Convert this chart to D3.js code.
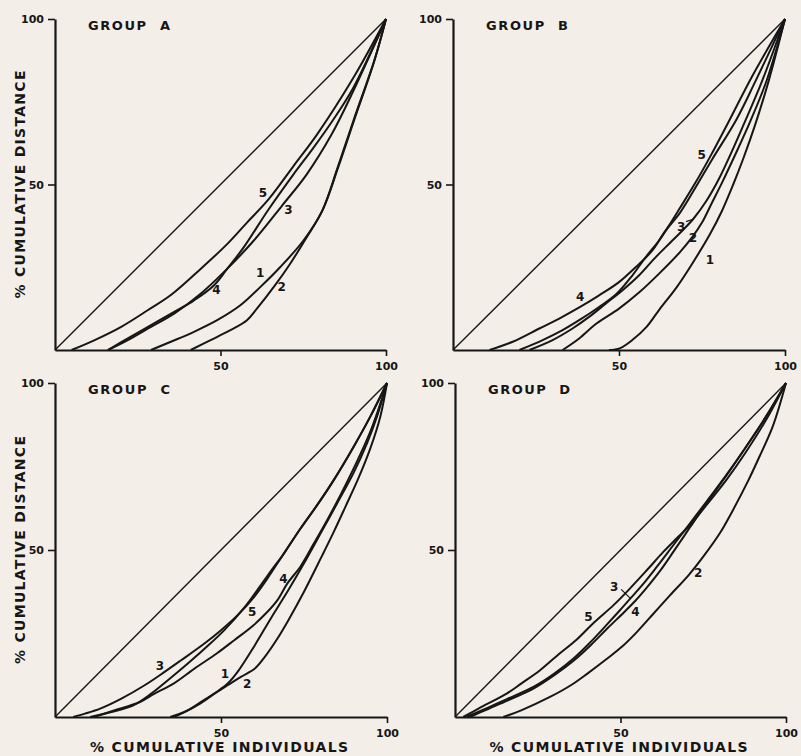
<!doctype html>
<html>
<head>
<script src="https://cdn.jsdelivr.net/npm/d3@7"></script>
<style>
body { margin: 0; background: #f3efe8; }
svg { display: block; background: #f3efe8; }
text { font-family: "DejaVu Sans", sans-serif; font-weight: bold; fill: #161616; }
</style>
</head>
<body>
<svg width="801" height="756"></svg>
<script>

// ticks and titles
var xTicks = [50, 100];
var yTicks = [50, 100];
var groupNames = ["A", "B", "C", "D"];
var xTitle = "% CUMULATIVE INDIVIDUALS";
var yTitle = "% CUMULATIVE DISTANCE";

// curves: [% cumulative individuals, % cumulative distance]
var groupA1 = [[29,0],[35,2.5],[42,5.5],[49,9],[56,13.5],[62,19],[68,25],[75,33],[80.8,42.2],[85.5,55],[90.4,69.5],[96.5,87.4],[100,100]];
var groupA2 = [[41,0],[47,3],[53,6],[58,9],[61,12.5],[66.5,19.6],[71,26],[76,34],[80.8,42.2],[85.5,55.5],[90.4,70],[96.5,87.6],[100,100]];
var groupA3 = [[16,0],[22,3],[29,7],[36,11],[44,17],[52,24.5],[60,33],[68.5,43.5],[76,53],[83.5,65],[90,78],[100,100]];
var groupA4 = [[16,0],[22,3.5],[29,7.5],[36,11.5],[42,15],[48,19.5],[52,24.5],[57,31],[64.4,42.3],[72,53],[78,61],[84,69.5],[90,79],[100,100]];
var groupA5 = [[5,0],[12,3],[20,7],[28,12],[35,16.6],[44,24.5],[52,32],[58,38.5],[64.5,45.5],[72,55.5],[79.3,65.3],[90,82],[100,100]];

var groupB1 = [[47,0],[50.2,0.5],[54,3],[58.3,7],[62,12],[67.4,19],[72,26],[77.3,34.8],[81,42],[84.4,50],[87.5,58],[91,68],[95,81],[100,100]];
var groupB2 = [[33,0],[38,3.5],[43.2,8],[50,12.5],[56.2,17.5],[62,23],[68.3,29.5],[72,34],[75,38.5],[78,44.5],[81,50.5],[85,59],[89.5,69],[94.5,81.5],[100,100]];
var groupB3 = [[23,0],[30,3],[36,6.5],[41,10],[46,14],[51,18],[56,22.5],[61,28],[66,33],[72.3,39.5],[76.3,45],[80,51.5],[84,60],[87.5,68],[93,81],[100,100]];
var groupB4 = [[11,0],[18,2.5],[26,6.5],[32,9.5],[38.3,13],[44,16.5],[50,20.5],[55,25],[60,30],[64,36],[68.4,41.5],[73,49],[78,57.5],[85.3,69.5],[91,81],[100,100]];
var groupB5 = [[20,0],[27,3],[33,6],[38,9],[44,13],[49.3,17],[54,22.5],[58,28],[62,33],[65,37.5],[68.3,42.8],[73,50.5],[77.5,58.5],[83.3,69.5],[90,82.5],[100,100]];

var groupC1 = [[34.7,0],[39,1.5],[43.7,4],[48,7],[52,10],[55,13.5],[60.2,21.5],[65,29.5],[70.3,38],[75,46],[80.3,55.5],[85,64],[89.9,73],[94,82],[97,90],[100,100]];
var groupC2 = [[35.7,0],[40,2],[44,4.5],[48,7],[52,9.5],[56,12],[60.2,14.5],[63.2,18],[67,23.5],[70.3,29],[75,37.5],[80.3,48],[84,55.5],[87.5,63],[91.4,71.5],[95,80.5],[98,90],[100,100]];
var groupC3 = [[5.5,0],[9,1],[13.6,2.5],[20,5.5],[27,9.5],[33,13.5],[38,17],[45,22],[50,26],[55,30.5],[60,36],[64,41.5],[68.3,48],[74,56.5],[79,63.5],[84,71],[90,81],[95,90],[100,100]];
var groupC4 = [[11.6,0],[18,2],[25.6,4.5],[30,7],[35.7,10],[42,14.5],[48.7,19],[54,23],[59.8,27.5],[64,31.5],[67,35],[70,40],[73.9,45],[78,52],[82,59],[86,66.5],[90,74.5],[95,85.5],[100,100]];
var groupC5 = [[10.6,0],[17,1.5],[23.6,3.5],[29,7],[34,11],[40,16],[45.7,21],[51,26],[57.2,33],[62,39.5],[66,45],[68.3,48],[74,56.5],[79,63.5],[84,71],[90,81],[95,90],[100,100]];

var groupD2 = [[14.6,0],[20,2],[28.7,6],[35,9.5],[40,13],[46,17.5],[50.4,21],[55,25.5],[60,31],[65,36.5],[70.6,42.5],[75,48],[80,55],[84,62],[88.7,71],[92,78],[96,87],[100,100]];
var groupD3 = [[3.5,0],[10,2.8],[16,5.5],[23.7,9],[30,13],[35.8,17.5],[41,22.5],[46,27.8],[49.5,31.6],[53,35.5],[57,40],[61,45],[66,51.5],[71,58],[76,64.5],[82,72.5],[88,81],[94,90],[100,100]];
var groupD4 = [[4.5,0],[10,2.4],[16,5],[23.7,8.5],[30,12.5],[36,17],[41,21.5],[46,26.5],[51,31.3],[54.5,34.8],[58,38.8],[62,43.8],[66,49.5],[71,56.8],[76,64],[82,72.3],[88,81],[94,90],[100,100]];
var groupD5 = [[2.5,0],[8,3],[15.6,7],[20,10],[25.7,14],[31,18.5],[36.8,23.2],[42,28.3],[47.9,33.5],[52.4,38],[58,44],[63,49.5],[67,53.5],[70.6,57],[76,63.5],[82,71],[88,79.5],[94,89],[100,100]];

// curve number labels: [text, x, y] in data units
var labelsA = [["1",62,23.2],["2",68.5,19],["3",70.5,42.3],["4",48.8,18.1],["5",62.8,47.4]];
var labelsB = [["1",77.4,27.2],["2",72.3,33.8],["3",68.7,37.3],["4",38.3,16.1],["5",74.9,58.9]];
var labelsC = [["1",51.2,13],["2",57.9,10],["3",31.6,15.2],["4",68.8,41.3],["5",59.4,31.5]];
var labelsD = [["2",73.5,43],["3",48.1,39],["4",54.5,31.3],["5",40.3,30]];

// short leader strokes from a label to its curve: [x1, y1, x2, y2]
var leadersB = [[70.2,38.8,72.3,39.5]];
var leadersD = [[50.2,38.2,52.9,35.6]];

var panels = [
  { name: groupNames[0], curves: [groupA1, groupA2, groupA3, groupA4, groupA5], labels: labelsA, leaders: [],
    box: { x: 55, y: 19, w: 331, h: 331 }, xTitle: false, yTitle: true },
  { name: groupNames[1], curves: [groupB1, groupB2, groupB3, groupB4, groupB5], labels: labelsB, leaders: leadersB,
    box: { x: 453, y: 19, w: 332, h: 331 }, xTitle: false, yTitle: false },
  { name: groupNames[2], curves: [groupC1, groupC2, groupC3, groupC4, groupC5], labels: labelsC, leaders: [],
    box: { x: 55, y: 383, w: 332, h: 334 }, xTitle: true, yTitle: true },
  { name: groupNames[3], curves: [groupD2, groupD3, groupD4, groupD5], labels: labelsD, leaders: leadersD,
    box: { x: 455, y: 383, w: 331, h: 334 }, xTitle: true, yTitle: false }
];

var svg = d3.select("svg");
var ink = "#161616";

panels.forEach(drawPanel);

function drawPanel(p) {
  var b = p.box;
  var x = d3.scaleLinear().domain([0, 100]).range([0, b.w]);
  var y = d3.scaleLinear().domain([0, 100]).range([b.h, 0]);
  var g = svg.append("g").attr("transform", "translate(" + b.x + "," + b.y + ")");

  var line = d3.line().x(d => x(d[0])).y(d => y(d[1])).curve(d3.curveCatmullRom.alpha(0.5));
  var straight = d3.line().x(d => x(d[0])).y(d => y(d[1]));

  // line of equality
  g.append("path")
    .attr("d", straight([[0, 0], [100, 100]]))
    .attr("fill", "none").attr("stroke", ink).attr("stroke-width", 1.4);

  g.selectAll("path.curve")
    .data(p.curves)
    .enter().append("path")
    .attr("class", "curve")
    .attr("d", d => line(d))
    .attr("fill", "none")
    .attr("stroke", ink)
    .attr("stroke-width", 2)
    .attr("stroke-linejoin", "round");

  g.selectAll("line.leader")
    .data(p.leaders)
    .enter().append("line")
    .attr("class", "leader")
    .attr("x1", d => x(d[0])).attr("y1", d => y(d[1]))
    .attr("x2", d => x(d[2])).attr("y2", d => y(d[3]))
    .attr("stroke", ink).attr("stroke-width", 1.2);

  g.selectAll("text.num")
    .data(p.labels)
    .enter().append("text")
    .attr("class", "num")
    .attr("x", d => x(d[1]))
    .attr("y", d => y(d[2]))
    .attr("text-anchor", "middle")
    .attr("dominant-baseline", "central")
    .style("font-size", "12px")
    .text(d => d[0]);

  // axes
  var yAxis = d3.axisLeft(y).tickValues(yTicks).tickSize(7).tickSizeOuter(0).tickPadding(4);
  var xAxis = d3.axisBottom(x).tickValues(xTicks).tickSize(6).tickSizeOuter(0).tickPadding(6);

  var ya = g.append("g").call(yAxis);
  var xa = g.append("g").attr("transform", "translate(0," + b.h + ")").call(xAxis);
  [ya, xa].forEach(function(a) {
    a.select(".domain").attr("stroke", ink).attr("stroke-width", 2.2);
    a.selectAll(".tick line").attr("stroke", ink).attr("stroke-width", 1.6);
    a.selectAll(".tick text").attr("fill", ink)
      .style("font-family", "'DejaVu Sans', sans-serif")
      .style("font-weight", "bold")
      .style("font-size", "11px");
  });

  g.append("text")
    .attr("x", 33).attr("y", 11)
    .attr("textLength", 82).attr("lengthAdjust", "spacing")
    .style("font-size", "13px")
    .text("GROUP\u00a0\u00a0" + p.name);

  if (p.yTitle) {
    g.append("text")
      .attr("transform", "translate(" + (20 - b.x) + "," + (b.h / 2) + ") rotate(-90)")
      .attr("text-anchor", "middle")
      .attr("dominant-baseline", "central")
      .attr("textLength", 228).attr("lengthAdjust", "spacing")
      .style("font-size", "14px")
      .text(yTitle);
  }
  if (p.xTitle) {
    g.append("text")
      .attr("x", b.w / 2 - 2).attr("y", b.h + 30)
      .attr("text-anchor", "middle")
      .attr("dominant-baseline", "central")
      .attr("textLength", 258).attr("lengthAdjust", "spacing")
      .style("font-size", "14px")
      .text(xTitle);
  }
}

</script>
</body>
</html>
